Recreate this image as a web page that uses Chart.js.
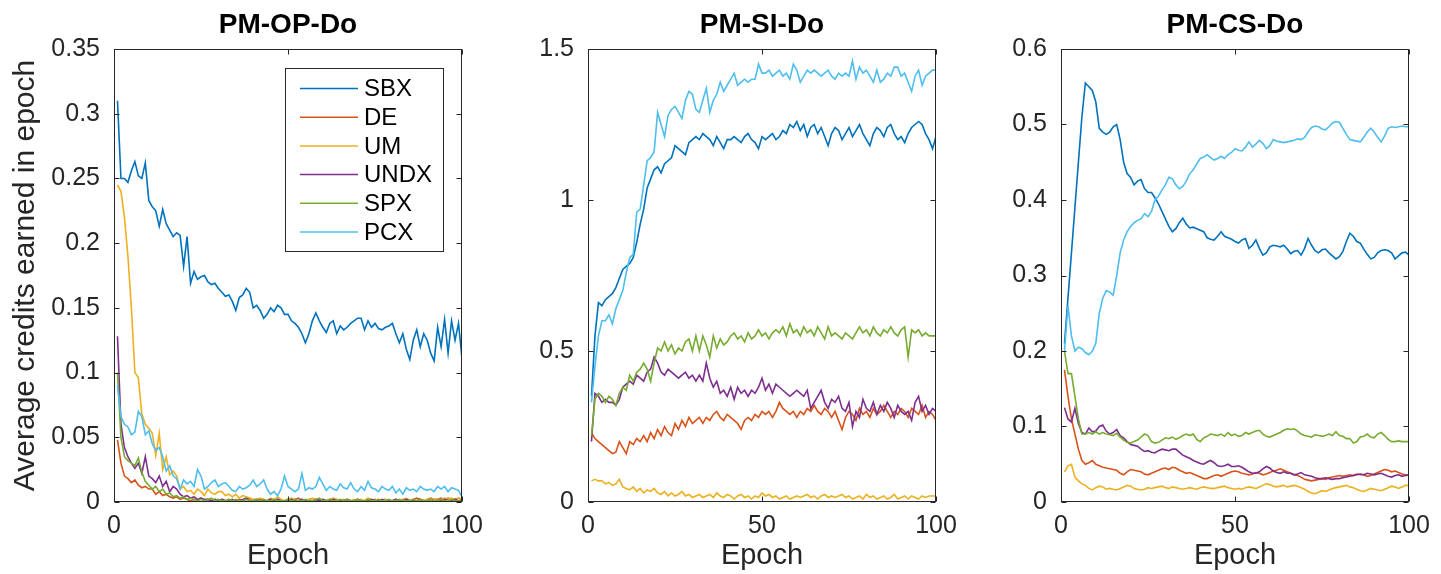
<!DOCTYPE html>
<html>
<head>
<meta charset="utf-8">
<script src="https://cdn.jsdelivr.net/npm/chart.js@4.4.0/dist/chart.umd.min.js"></script>
<style>
  body { margin: 0; background: #fff; width: 1441px; height: 574px; overflow: hidden; position: relative; }
  canvas { position: absolute; top: 0; }
</style>
</head>
<body>
<canvas id="op" width="492" height="574" style="left:0px"></canvas>
<canvas id="si" width="474" height="574" style="left:492px"></canvas>
<canvas id="cs" width="473" height="574" style="left:966px"></canvas>
<script>
// ---- data ----
const epochs = [];
for (let i = 1; i <= 100; i++) epochs.push(i);

const seriesNames = ['SBX', 'DE', 'UM', 'UNDX', 'SPX', 'PCX'];
const seriesColors = ['#0072BD', '#D95319', '#EDB120', '#7E2F8E', '#77AC30', '#4DBEEE'];

const xTicks = [0, 50, 100];
const opTicks = [0, 0.05, 0.1, 0.15, 0.2, 0.25, 0.3, 0.35];
const siTicks = [0, 0.5, 1, 1.5];
const csTicks = [0, 0.1, 0.2, 0.3, 0.4, 0.5, 0.6];

// PM-OP-Do
const opSBX = [0.31,0.25,0.25,0.247,0.256,0.263,0.252,0.25,0.262,0.233,
  0.228,0.225,0.213,0.226,0.215,0.21,0.205,0.208,0.206,0.182,
  0.205,0.169,0.178,0.172,0.174,0.175,0.17,0.168,0.169,0.165,
  0.162,0.159,0.16,0.155,0.148,0.158,0.16,0.165,0.162,0.15,
  0.152,0.148,0.142,0.145,0.15,0.147,0.152,0.15,0.145,0.145,
  0.14,0.138,0.135,0.13,0.123,0.13,0.14,0.146,0.14,0.135,
  0.131,0.138,0.14,0.13,0.136,0.133,0.135,0.138,0.14,0.142,
  0.142,0.133,0.14,0.135,0.138,0.134,0.133,0.135,0.136,0.138,
  0.13,0.123,0.13,0.118,0.11,0.125,0.133,0.12,0.13,0.125,
  0.115,0.109,0.135,0.12,0.141,0.115,0.14,0.125,0.138,0.111];
const opDE = [0.048,0.03,0.02,0.018,0.015,0.017,0.013,0.011,0.012,0.01,
  0.01,0.006,0.008,0.005,0.006,0.004,0.003,0.004,0.002,0.003,
  0.002,0.001,0.002,0.001,0.003,0.001,0.002,0.001,0.002,0.001,
  0.002,0.001,0.002,0.001,0.001,0.002,0.001,0.002,0.003,0.001,
  0.001,0.002,0.001,0.001,0.002,0.001,0.002,0.001,0.001,0.002,
  0.001,0.002,0.003,0.001,0.001,0.002,0.001,0.001,0.002,0.001,
  0.001,0.002,0.001,0.002,0.001,0.001,0.002,0.001,0.001,0.002,
  0.001,0.001,0.002,0.001,0.002,0.001,0.001,0.002,0.001,0.001,
  0.002,0.001,0.002,0.001,0.001,0.002,0.003,0.002,0.001,0.002,
  0.003,0.002,0.002,0.003,0.002,0.003,0.002,0.002,0.003,0.002];
const opUM = [0.245,0.24,0.22,0.19,0.15,0.1,0.096,0.068,0.06,0.057,
  0.053,0.036,0.053,0.025,0.035,0.021,0.024,0.02,0.01,0.012,
  0.008,0.009,0.006,0.01,0.008,0.005,0.01,0.007,0.006,0.008,
  0.008,0.005,0.006,0.004,0.006,0.003,0.005,0.004,0.003,0.002,
  0.002,0.003,0.002,0.001,0.003,0.002,0.004,0.002,0.001,0.002,
  0.003,0.002,0.001,0.002,0.001,0.002,0.003,0.002,0.001,0.002,
  0.001,0.002,0.003,0.002,0.001,0.002,0.001,0.001,0.002,0.001,
  0.002,0.001,0.003,0.002,0.001,0.002,0.001,0.002,0.001,0.001,
  0.002,0.001,0.002,0.003,0.001,0.002,0.001,0.002,0.001,0.002,
  0.003,0.002,0.001,0.002,0.003,0.002,0.003,0.002,0.003,0.002];
const opUNDX = [0.128,0.06,0.042,0.035,0.03,0.026,0.03,0.022,0.035,0.02,
  0.018,0.015,0.02,0.012,0.016,0.008,0.012,0.01,0.006,0.004,
  0.005,0.003,0.004,0.002,0.003,0.002,0.002,0.001,0.002,0.001,
  0.002,0.001,0.001,0.002,0.001,0.001,0.002,0.003,0.001,0.001,
  0.002,0.001,0.001,0.001,0.002,0.001,0.002,0.001,0.001,0.001,
  0.002,0.001,0.001,0.002,0.001,0.001,0.001,0.002,0.001,0.002,
  0.001,0.001,0.002,0.001,0.001,0.001,0.002,0.001,0.001,0.002,
  0.001,0.001,0.001,0.002,0.001,0.001,0.002,0.001,0.001,0.001,
  0.002,0.001,0.001,0.002,0.001,0.001,0.001,0.002,0.001,0.001,
  0.002,0.001,0.001,0.001,0.002,0.001,0.001,0.002,0.001,0.001];
const opSPX = [0.1,0.05,0.035,0.032,0.03,0.028,0.034,0.023,0.016,0.013,
  0.01,0.012,0.008,0.01,0.006,0.007,0.004,0.005,0.003,0.004,
  0.002,0.003,0.002,0.001,0.002,0.001,0.002,0.003,0.001,0.002,
  0.001,0.001,0.002,0.001,0.002,0.001,0.001,0.002,0.001,0.001,
  0.002,0.001,0.002,0.001,0.001,0.002,0.001,0.001,0.001,0.002,
  0.001,0.002,0.001,0.001,0.002,0.001,0.001,0.002,0.003,0.001,
  0.001,0.002,0.001,0.001,0.002,0.001,0.002,0.001,0.001,0.002,
  0.001,0.001,0.002,0.001,0.001,0.002,0.001,0.001,0.002,0.001,
  0.001,0.002,0.001,0.001,0.001,0.002,0.001,0.002,0.001,0.001,
  0.002,0.001,0.001,0.002,0.001,0.001,0.002,0.001,0.001,0.002];
const opPCX = [0.09,0.066,0.06,0.058,0.052,0.054,0.07,0.066,0.052,0.055,
  0.045,0.04,0.042,0.035,0.024,0.028,0.02,0.018,0.01,0.017,
  0.014,0.016,0.012,0.025,0.02,0.01,0.012,0.015,0.017,0.012,
  0.014,0.015,0.012,0.009,0.008,0.012,0.01,0.011,0.013,0.017,
  0.012,0.014,0.017,0.01,0.006,0.008,0.005,0.01,0.02,0.012,
  0.01,0.008,0.01,0.022,0.009,0.011,0.01,0.012,0.019,0.014,
  0.009,0.012,0.01,0.009,0.014,0.011,0.01,0.015,0.01,0.008,
  0.012,0.009,0.016,0.011,0.01,0.008,0.012,0.01,0.009,0.012,
  0.007,0.01,0.006,0.011,0.009,0.01,0.008,0.012,0.01,0.009,
  0.01,0.008,0.012,0.01,0.012,0.008,0.011,0.01,0.009,0.004];

// PM-SI-Do
const siSBX = [0.35,0.55,0.66,0.65,0.67,0.68,0.69,0.71,0.74,0.77,
  0.78,0.79,0.81,0.86,0.92,0.97,1.04,1.07,1.1,1.11,
  1.09,1.12,1.13,1.14,1.18,1.17,1.16,1.15,1.19,1.2,
  1.21,1.2,1.22,1.21,1.2,1.18,1.21,1.19,1.17,1.2,
  1.2,1.21,1.2,1.19,1.21,1.22,1.2,1.19,1.17,1.21,
  1.2,1.21,1.22,1.2,1.21,1.23,1.22,1.25,1.24,1.26,
  1.23,1.25,1.21,1.24,1.25,1.22,1.24,1.21,1.18,1.22,
  1.24,1.23,1.2,1.22,1.24,1.21,1.23,1.25,1.22,1.2,
  1.18,1.22,1.24,1.23,1.21,1.24,1.25,1.22,1.2,1.21,
  1.19,1.22,1.24,1.25,1.26,1.25,1.22,1.2,1.17,1.21];
const siDE = [0.23,0.21,0.2,0.19,0.18,0.17,0.16,0.165,0.2,0.18,
  0.16,0.2,0.19,0.21,0.2,0.22,0.2,0.23,0.21,0.24,
  0.22,0.25,0.23,0.22,0.26,0.24,0.27,0.25,0.28,0.26,
  0.27,0.28,0.26,0.28,0.27,0.29,0.3,0.28,0.27,0.29,
  0.28,0.27,0.26,0.24,0.27,0.28,0.27,0.29,0.28,0.3,
  0.29,0.3,0.28,0.3,0.33,0.31,0.3,0.29,0.3,0.28,
  0.3,0.29,0.31,0.3,0.32,0.3,0.29,0.31,0.3,0.28,
  0.3,0.27,0.24,0.28,0.3,0.29,0.27,0.31,0.29,0.3,
  0.28,0.31,0.29,0.3,0.32,0.3,0.28,0.3,0.29,0.31,
  0.3,0.28,0.31,0.3,0.29,0.32,0.28,0.3,0.29,0.27];
const siUM = [0.07,0.075,0.07,0.07,0.06,0.065,0.055,0.06,0.075,0.05,
  0.045,0.04,0.05,0.035,0.045,0.03,0.04,0.035,0.045,0.03,
  0.025,0.035,0.02,0.03,0.02,0.025,0.035,0.02,0.025,0.015,
  0.02,0.025,0.015,0.02,0.025,0.015,0.03,0.02,0.015,0.025,
  0.02,0.01,0.02,0.025,0.015,0.02,0.01,0.02,0.015,0.03,
  0.02,0.025,0.015,0.02,0.01,0.015,0.02,0.01,0.015,0.02,
  0.015,0.02,0.025,0.015,0.02,0.01,0.02,0.025,0.015,0.02,
  0.015,0.02,0.025,0.015,0.02,0.01,0.015,0.02,0.01,0.025,
  0.015,0.02,0.01,0.015,0.02,0.01,0.015,0.025,0.01,0.015,
  0.02,0.01,0.02,0.015,0.01,0.02,0.015,0.02,0.02,0.02];
const siUNDX = [0.2,0.36,0.35,0.33,0.34,0.33,0.33,0.32,0.34,0.38,
  0.39,0.4,0.39,0.42,0.41,0.4,0.43,0.44,0.48,0.46,
  0.43,0.42,0.44,0.43,0.42,0.41,0.42,0.43,0.41,0.42,
  0.4,0.42,0.4,0.46,0.41,0.38,0.4,0.36,0.37,0.35,
  0.38,0.34,0.38,0.36,0.37,0.35,0.37,0.36,0.38,0.41,
  0.37,0.39,0.36,0.39,0.38,0.37,0.36,0.35,0.36,0.37,
  0.36,0.35,0.37,0.31,0.33,0.35,0.37,0.33,0.31,0.34,
  0.33,0.35,0.31,0.3,0.33,0.25,0.3,0.28,0.34,0.31,
  0.3,0.33,0.29,0.32,0.3,0.33,0.31,0.28,0.32,0.3,
  0.29,0.3,0.27,0.33,0.35,0.3,0.32,0.29,0.31,0.3];
const siSPX = [0.22,0.34,0.36,0.35,0.33,0.35,0.34,0.32,0.36,0.38,
  0.37,0.42,0.4,0.43,0.44,0.46,0.44,0.4,0.46,0.51,
  0.5,0.53,0.5,0.52,0.49,0.51,0.5,0.53,0.54,0.5,
  0.55,0.5,0.55,0.52,0.48,0.55,0.51,0.54,0.52,0.53,
  0.55,0.56,0.54,0.55,0.53,0.56,0.54,0.55,0.57,0.55,
  0.56,0.54,0.56,0.57,0.56,0.58,0.55,0.59,0.56,0.57,
  0.55,0.58,0.56,0.57,0.55,0.58,0.56,0.54,0.58,0.55,
  0.56,0.55,0.54,0.56,0.55,0.54,0.56,0.58,0.56,0.57,
  0.55,0.58,0.56,0.55,0.57,0.56,0.58,0.56,0.55,0.57,
  0.58,0.48,0.57,0.56,0.57,0.55,0.56,0.55,0.55,0.55];
const siPCX = [0.33,0.45,0.55,0.6,0.6,0.62,0.59,0.64,0.67,0.7,
  0.76,0.81,0.82,0.96,0.97,1.05,1.13,1.14,1.16,1.29,
  1.25,1.21,1.28,1.3,1.31,1.29,1.27,1.33,1.36,1.35,
  1.3,1.29,1.33,1.37,1.29,1.33,1.35,1.39,1.36,1.38,
  1.4,1.42,1.38,1.39,1.4,1.39,1.4,1.4,1.45,1.42,
  1.42,1.43,1.41,1.42,1.43,1.41,1.42,1.4,1.45,1.43,
  1.39,1.41,1.43,1.42,1.43,1.42,1.41,1.42,1.43,1.41,
  1.4,1.42,1.41,1.42,1.41,1.46,1.4,1.44,1.42,1.43,
  1.41,1.39,1.43,1.39,1.4,1.42,1.41,1.44,1.44,1.41,
  1.42,1.39,1.36,1.41,1.43,1.38,1.41,1.42,1.43,1.43];

// PM-CS-Do
const csSBX = [0.21,0.27,0.33,0.39,0.45,0.51,0.555,0.55,0.545,0.53,
  0.495,0.49,0.487,0.49,0.497,0.5,0.48,0.45,0.435,0.43,
  0.42,0.425,0.427,0.415,0.41,0.41,0.403,0.395,0.385,0.375,
  0.365,0.358,0.362,0.37,0.376,0.368,0.363,0.364,0.362,0.36,
  0.358,0.35,0.348,0.347,0.352,0.358,0.352,0.35,0.348,0.345,
  0.343,0.347,0.349,0.336,0.34,0.347,0.336,0.327,0.33,0.338,
  0.34,0.339,0.338,0.34,0.335,0.329,0.332,0.333,0.327,0.336,
  0.349,0.34,0.333,0.33,0.334,0.335,0.33,0.326,0.322,0.325,
  0.332,0.345,0.356,0.352,0.345,0.343,0.335,0.328,0.322,0.324,
  0.33,0.333,0.334,0.333,0.33,0.322,0.326,0.33,0.331,0.327];
const csDE = [0.175,0.14,0.11,0.09,0.07,0.055,0.05,0.052,0.055,0.05,
  0.048,0.046,0.045,0.044,0.043,0.042,0.038,0.036,0.04,0.043,
  0.042,0.041,0.04,0.037,0.036,0.038,0.04,0.042,0.044,0.045,
  0.043,0.046,0.045,0.042,0.04,0.038,0.039,0.037,0.035,0.033,
  0.031,0.031,0.033,0.035,0.036,0.034,0.036,0.038,0.04,0.041,
  0.04,0.038,0.037,0.036,0.037,0.039,0.038,0.036,0.037,0.039,
  0.041,0.042,0.044,0.042,0.04,0.038,0.036,0.035,0.033,0.03,
  0.029,0.028,0.029,0.03,0.031,0.03,0.032,0.033,0.034,0.035,
  0.034,0.035,0.036,0.035,0.037,0.036,0.036,0.034,0.035,0.037,
  0.039,0.041,0.043,0.042,0.04,0.041,0.039,0.037,0.036,0.035];
const csUM = [0.04,0.048,0.05,0.033,0.028,0.024,0.022,0.018,0.016,0.019,
  0.021,0.02,0.017,0.018,0.017,0.016,0.018,0.02,0.022,0.021,
  0.018,0.017,0.016,0.017,0.019,0.018,0.019,0.02,0.021,0.019,
  0.018,0.02,0.019,0.018,0.017,0.018,0.019,0.018,0.017,0.019,
  0.02,0.019,0.018,0.018,0.019,0.02,0.021,0.019,0.018,0.017,
  0.018,0.017,0.019,0.02,0.019,0.018,0.02,0.022,0.024,0.023,
  0.021,0.02,0.021,0.022,0.02,0.021,0.022,0.021,0.019,0.017,
  0.014,0.012,0.011,0.013,0.015,0.014,0.016,0.018,0.019,0.02,
  0.021,0.022,0.02,0.019,0.017,0.015,0.014,0.016,0.018,0.017,
  0.016,0.015,0.017,0.019,0.021,0.02,0.018,0.02,0.022,0.022];
const csUNDX = [0.125,0.11,0.106,0.124,0.104,0.092,0.09,0.098,0.093,0.094,
  0.1,0.102,0.094,0.09,0.092,0.096,0.088,0.085,0.08,0.076,
  0.075,0.074,0.07,0.067,0.068,0.066,0.065,0.068,0.07,0.069,
  0.068,0.07,0.07,0.066,0.062,0.06,0.058,0.055,0.053,0.051,
  0.05,0.053,0.055,0.052,0.048,0.047,0.048,0.05,0.047,0.047,
  0.048,0.046,0.043,0.04,0.038,0.038,0.04,0.044,0.047,0.045,
  0.041,0.039,0.038,0.04,0.038,0.038,0.036,0.037,0.039,0.036,
  0.035,0.034,0.032,0.031,0.031,0.032,0.031,0.03,0.031,0.031,
  0.032,0.033,0.034,0.035,0.036,0.037,0.036,0.038,0.037,0.036,
  0.037,0.038,0.036,0.034,0.033,0.035,0.036,0.034,0.035,0.036];
const csSPX = [0.2,0.17,0.17,0.14,0.11,0.09,0.09,0.092,0.09,0.093,
  0.09,0.092,0.09,0.089,0.088,0.091,0.086,0.082,0.079,0.078,
  0.08,0.082,0.086,0.09,0.088,0.08,0.078,0.079,0.082,0.085,
  0.084,0.086,0.083,0.085,0.088,0.09,0.088,0.09,0.083,0.08,
  0.085,0.087,0.09,0.089,0.088,0.09,0.087,0.092,0.088,0.09,
  0.087,0.088,0.092,0.09,0.092,0.094,0.095,0.09,0.087,0.086,
  0.088,0.09,0.092,0.095,0.097,0.096,0.097,0.094,0.09,0.088,
  0.087,0.086,0.089,0.088,0.087,0.088,0.09,0.088,0.093,0.088,
  0.087,0.084,0.084,0.078,0.08,0.086,0.087,0.09,0.086,0.085,
  0.09,0.092,0.088,0.083,0.08,0.08,0.081,0.08,0.08,0.08];
const csPCX = [0.2,0.26,0.22,0.2,0.205,0.203,0.198,0.195,0.2,0.21,
  0.25,0.27,0.28,0.278,0.274,0.3,0.33,0.347,0.358,0.365,
  0.37,0.373,0.375,0.382,0.378,0.385,0.4,0.405,0.413,0.42,
  0.43,0.428,0.42,0.415,0.418,0.425,0.435,0.44,0.448,0.455,
  0.457,0.46,0.456,0.453,0.455,0.458,0.455,0.46,0.463,0.468,
  0.466,0.465,0.47,0.477,0.47,0.474,0.479,0.475,0.468,0.472,
  0.48,0.478,0.477,0.476,0.477,0.478,0.479,0.481,0.48,0.483,
  0.49,0.496,0.498,0.497,0.494,0.493,0.497,0.502,0.504,0.503,
  0.495,0.487,0.48,0.479,0.478,0.477,0.483,0.49,0.495,0.49,
  0.483,0.477,0.485,0.495,0.497,0.496,0.497,0.498,0.497,0.497];

// ---- drawing ----
Chart.defaults.font.family = '"Liberation Sans", Arial, Helvetica, sans-serif';
Chart.defaults.color = '#262626';

// matlab style box with inward ticks on all four sides
const frame = {
  id: 'frame',
  afterDatasetsDraw(chart) {
    const { ctx, chartArea: a, scales: { x, y } } = chart;
    const L = Math.round(a.left) + 0.5, R = Math.round(a.right) - 0.5;
    const T = Math.round(a.top) + 0.5, B = Math.round(a.bottom) - 0.5;
    ctx.save();
    ctx.strokeStyle = '#262626';
    ctx.lineWidth = 1;
    ctx.strokeRect(L, T, R - L, B - T);
    ctx.beginPath();
    x.ticks.forEach(t => {
      const px = Math.round(x.getPixelForValue(t.value)) + 0.5;
      ctx.moveTo(px, B); ctx.lineTo(px, B - 5);
      ctx.moveTo(px, T); ctx.lineTo(px, T + 5);
    });
    y.ticks.forEach(t => {
      const py = Math.round(y.getPixelForValue(t.value)) + 0.5;
      ctx.moveTo(L, py); ctx.lineTo(L + 5, py);
      ctx.moveTo(R, py); ctx.lineTo(R - 5, py);
    });
    ctx.stroke();
    ctx.restore();
  }
};

const panelTitle = {
  id: 'panelTitle',
  afterDraw(chart, args, opts) {
    const { ctx, chartArea: a } = chart;
    ctx.save();
    ctx.font = 'bold 28px "Liberation Sans", Arial, sans-serif';
    ctx.fillStyle = '#000';
    ctx.textAlign = 'center';
    ctx.textBaseline = 'middle';
    ctx.fillText(opts.text, (a.left + a.right) / 2, 25);
    ctx.restore();
  }
};

const boxLegend = {
  id: 'boxLegend',
  afterDraw(chart, args, opts) {
    if (!opts.show) return;
    const { ctx } = chart;
    ctx.save();
    ctx.fillStyle = '#fff';
    ctx.fillRect(285.5, 68.5, 158, 183);
    ctx.strokeStyle = '#262626';
    ctx.lineWidth = 1;
    ctx.strokeRect(285.5, 68.5, 158, 183);
    ctx.font = '24px "Liberation Sans", Arial, sans-serif';
    ctx.textBaseline = 'middle';
    chart.data.datasets.forEach((ds, i) => {
      const yy = 88.5 + i * 28.7;
      ctx.strokeStyle = ds.borderColor;
      ctx.lineWidth = 1.5;
      ctx.beginPath();
      ctx.moveTo(300, yy); ctx.lineTo(358, yy);
      ctx.stroke();
      ctx.fillStyle = '#000';
      ctx.fillText(ds.label, 364, yy + 1);
    });
    ctx.restore();
  }
};

function makePanel(id, title, values, yMax, yTicks, yWidth, showLabel, showLegend) {
  new Chart(document.getElementById(id), {
    type: 'line',
    data: {
      labels: epochs,
      datasets: seriesNames.map((name, i) => ({
        label: name,
        data: values[i],
        borderColor: seriesColors[i],
        borderWidth: 1.6,
        pointRadius: 0,
        tension: 0,
        fill: false,
        order: 5 - i
      }))
    },
    options: {
      responsive: false,
      animation: false,
      devicePixelRatio: 1,
      layout: { padding: { top: 49, right: 30, bottom: 0, left: 0 } },
      plugins: {
        legend: { display: false },
        tooltip: { enabled: false },
        panelTitle: { text: title },
        boxLegend: { show: showLegend }
      },
      scales: {
        x: {
          type: 'linear', min: 0, max: 100,
          afterBuildTicks: s => { s.ticks = xTicks.map(v => ({ value: v })); },
          afterFit: s => { s.height = 72; },
          ticks: { font: { size: 25 }, padding: 9, maxRotation: 0, autoSkip: false, color: '#262626' },
          grid: { display: false, drawTicks: false },
          border: { display: false },
          title: { display: true, text: 'Epoch', font: { size: 29 }, color: '#262626', padding: { top: 0, bottom: 1 } }
        },
        y: {
          min: 0, max: yMax,
          afterBuildTicks: s => { s.ticks = yTicks.map(v => ({ value: v })); },
          afterFit: s => { s.width = yWidth; },
          ticks: { font: { size: 25 }, padding: 14, color: '#262626', callback: v => String(v) },
          grid: { display: false, drawTicks: false },
          border: { display: false },
          title: { display: showLabel, text: 'Average credits earned in epoch', font: { size: 30 }, color: '#262626', padding: { top: 8, bottom: 0 } }
        }
      }
    },
    plugins: [frame, panelTitle, boxLegend]
  });
}

makePanel('op', 'PM-OP-Do', [opSBX, opDE, opUM, opUNDX, opSPX, opPCX], 0.35, opTicks, 114, true, true);
makePanel('si', 'PM-SI-Do', [siSBX, siDE, siUM, siUNDX, siSPX, siPCX], 1.5, siTicks, 96, false, false);
makePanel('cs', 'PM-CS-Do', [csSBX, csDE, csUM, csUNDX, csSPX, csPCX], 0.6, csTicks, 95, false, false);
</script>
</body>
</html>
